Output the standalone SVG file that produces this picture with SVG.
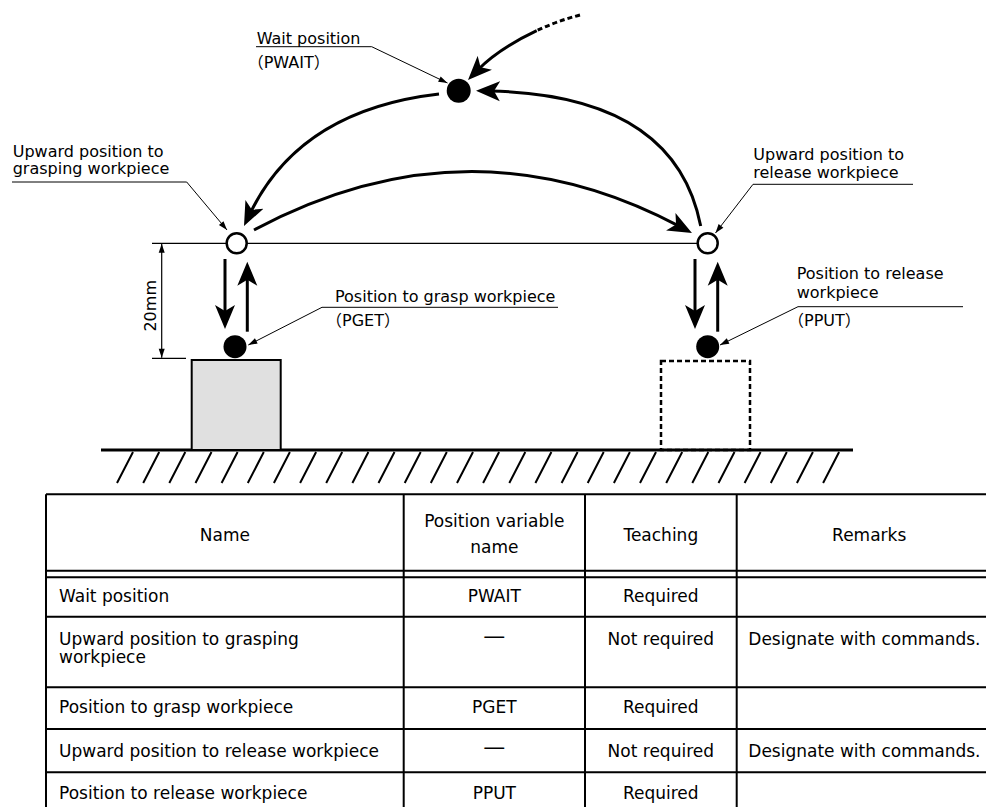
<svg xmlns="http://www.w3.org/2000/svg" width="986" height="807" viewBox="0 0 986 807">
<style>
text{font-family:"DejaVu Sans","Noto Sans CJK JP",sans-serif;fill:#000}
.lbl{font-size:16px}
.tb{font-size:17px}
.mid{text-anchor:middle}
.thick{fill:none;stroke:#000;stroke-width:3}
.leader{fill:none;stroke:#000;stroke-width:1}
.tl{fill:none;stroke:#000;stroke-width:2}
.open{fill:#fff;stroke:#000;stroke-width:2.5}
.dot{fill:#000}
</style>
<defs>
<marker id="big" markerUnits="userSpaceOnUse" viewBox="0 -11 25 22" markerWidth="25" markerHeight="22" refX="10" refY="0" orient="auto"><path d="M0,-10 L24,0 L0,10 L6,0 Z" fill="#000"/></marker>
<marker id="small" markerUnits="userSpaceOnUse" viewBox="-10 -4 11 8" markerWidth="11" markerHeight="8" refX="0" refY="0" orient="auto-start-reverse"><path d="M0,0 L-9,-3 L-9,3 Z" fill="#000"/></marker>
</defs>

<g id="ground">
<line x1="101" y1="450" x2="853" y2="450" stroke="#000" stroke-width="3"/>
<path d="M117,483l16,-31M143.2,483l16,-31M169.3,483l16,-31M195.5,483l16,-31M221.6,483l16,-31M247.8,483l16,-31M273.9,483l16,-31M300.1,483l16,-31M326.2,483l16,-31M352.4,483l16,-31M378.5,483l16,-31M404.7,483l16,-31M430.8,483l16,-31M457,483l16,-31M483.1,483l16,-31M509.3,483l16,-31M535.4,483l16,-31M561.6,483l16,-31M587.7,483l16,-31M613.9,483l16,-31M640,483l16,-31M666.2,483l16,-31M692.3,483l16,-31M718.5,483l16,-31M744.6,483l16,-31M770.8,483l16,-31M796.9,483l16,-31M823.1,483l16,-31" stroke="#000" stroke-width="2" fill="none"/>
</g>

<g id="workpiece-grasp">
<rect x="191.7" y="360" width="89" height="90" fill="#e0e0e0" stroke="#000" stroke-width="2"/>
</g>
<g id="workpiece-release">
<rect x="661" y="361" width="89" height="89" fill="none" stroke="#000" stroke-width="2.5" stroke-dasharray="5 3"/>
</g>

<g id="dimension">
<line x1="152" y1="243.3" x2="697" y2="243.3" stroke="#000" stroke-width="1.2"/>
<line x1="152" y1="358.3" x2="186" y2="358.3" stroke="#000" stroke-width="1.2"/>
<line x1="161.7" y1="243.8" x2="161.7" y2="357.8" stroke="#000" stroke-width="1.2" marker-start="url(#small)" marker-end="url(#small)"/>
<text class="lbl mid" transform="translate(156,305.8) rotate(-90)">20mm</text>
</g>

<g id="connectors">
<path class="thick" d="M580 15 Q557.25 20.95 536.7 30.7" stroke-dasharray="5 3"/>
<path class="thick" d="M536.7 30.7 Q498.55 48.8 477.8 70" marker-end="url(#big)"/>
<path class="thick" d="M439 94 Q300 110 250.1 213.4" marker-end="url(#big)"/>
<path class="thick" d="M254 230 Q470 115 679.6 226.4" marker-end="url(#big)"/>
<path class="thick" d="M700.7 226 Q675 95 490 91" marker-end="url(#big)"/>
<line class="thick" x1="225" y1="259" x2="225" y2="315" marker-end="url(#big)"/>
<line class="thick" x1="247.3" y1="331.7" x2="247.3" y2="275.7" marker-end="url(#big)"/>
<line class="thick" x1="695" y1="259" x2="695" y2="315" marker-end="url(#big)"/>
<line class="thick" x1="717.7" y1="331.7" x2="717.7" y2="275.7" marker-end="url(#big)"/>
</g>

<g id="node-pwait">
<circle class="dot" cx="458.7" cy="90.7" r="12"/>
<text class="lbl" x="256.7" y="43.5">Wait position</text>
<text class="lbl" x="247.7" y="68.3">（PWAIT）</text>
<path class="leader" d="M256 46.7 H371.7 L447.5 83" marker-end="url(#small)"/>
</g>

<g id="node-up-grasp">
<circle class="open" cx="236.7" cy="243.3" r="10"/>
<text class="lbl" x="12.7" y="156.7">Upward position to</text>
<text class="lbl" x="12.7" y="174.3">grasping workpiece</text>
<path class="leader" d="M12 182 H186.7 L227 230" marker-end="url(#small)"/>
</g>

<g id="node-grasp">
<circle class="dot" cx="235" cy="346.7" r="11.5"/>
<text class="lbl" x="335" y="301.7">Position to grasp workpiece</text>
<text class="lbl" x="326" y="326">（PGET）</text>
<path class="leader" d="M558 307.3 H322 L248.3 345" marker-end="url(#small)"/>
</g>

<g id="node-up-release">
<circle class="open" cx="707.7" cy="243.3" r="10"/>
<text class="lbl" x="753.3" y="160">Upward position to</text>
<text class="lbl" x="753.3" y="178.3">release workpiece</text>
<path class="leader" d="M913 184.3 H753 L715.5 233" marker-end="url(#small)"/>
</g>

<g id="node-release">
<circle class="dot" cx="707.7" cy="346.7" r="11.5"/>
<text class="lbl" x="796.7" y="279.3">Position to release</text>
<text class="lbl" x="796.7" y="297.7">workpiece</text>
<text class="lbl" x="788" y="326">（PPUT）</text>
<path class="leader" d="M963 306.7 H798 L720 345" marker-end="url(#small)"/>
</g>

<g id="table">
<path class="tl" d="M46 494.3 H986 M46 570.7 H986 M46 577.3 H986 M46 616.7 H986 M46 687.3 H986 M46 729 H986 M46 772.3 H986 M46 494.3 V807 M403.7 494.3 V807 M585 494.3 V807 M736.7 494.3 V807"/>
<text class="tb mid" x="224.9" y="541">Name</text>
<text class="tb mid" x="494.3" y="526.7">Position variable</text>
<text class="tb mid" x="494.3" y="553.3">name</text>
<text class="tb mid" x="660.8" y="541">Teaching</text>
<text class="tb mid" x="869.2" y="541">Remarks</text>

<text class="tb" x="59" y="601.7">Wait position</text>
<text class="tb mid" x="494.3" y="601.7">PWAIT</text>
<text class="tb mid" x="660.8" y="601.7">Required</text>

<text class="tb" x="59" y="645">Upward position to grasping</text>
<text class="tb" x="59" y="663.3">workpiece</text>
<text class="mid" style="font-size:22px" x="494.3" y="642.7">—</text>
<text class="tb mid" x="660.8" y="645">Not required</text>
<text class="tb" x="748.3" y="645">Designate with commands.</text>

<text class="tb" x="59" y="712.7">Position to grasp workpiece</text>
<text class="tb mid" x="494.3" y="712.7">PGET</text>
<text class="tb mid" x="660.8" y="712.7">Required</text>

<text class="tb" x="59" y="756.7">Upward position to release workpiece</text>
<text class="mid" style="font-size:22px" x="494.3" y="754">—</text>
<text class="tb mid" x="660.8" y="756.7">Not required</text>
<text class="tb" x="748.3" y="756.7">Designate with commands.</text>

<text class="tb" x="59" y="799">Position to release workpiece</text>
<text class="tb mid" x="494.3" y="799">PPUT</text>
<text class="tb mid" x="660.8" y="799">Required</text>
</g>
</svg>
